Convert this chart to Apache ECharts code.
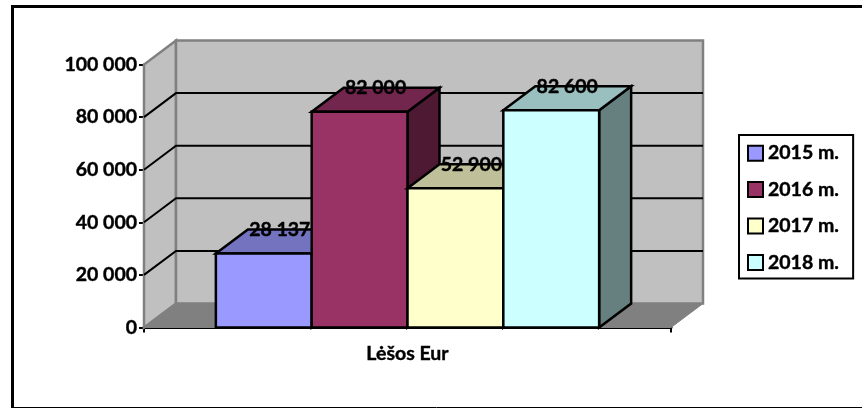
<!DOCTYPE html>
<html>
<head>
<meta charset="utf-8">
<style>
  html, body { margin: 0; padding: 0; background: #fff; }
  #myChart { width: 862px; height: 408px; }
</style>
<script src="https://cdn.jsdelivr.net/npm/echarts@6/dist/echarts.min.js"></script>
</head>
<body>
<div id="myChart"></div>
<script>
const categories = ['Lėšos Eur']
const seriesNames = ['2015 m.', '2016 m.', '2017 m.', '2018 m.']
const seriesValues = [28137, 82000, 52900, 82600]
const tickValues = [0, 20000, 40000, 60000, 80000, 100000]

const frontColors = ['#9999FF', '#993366', '#FFFFCC', '#CCFFFF']
const topColors = ['#7373BF', '#73264D', '#BFBF99', '#99BFBF']
const sideColors = ['#4D4D80', '#4D1933', '#808066', '#668080']

// 3D depth of the fake excel box, in pixels
const depthX = 32
const depthY = -24
const gapWidth = 1.5
const font = 'Lato, "Open Sans", sans-serif'
const fontSize = 19.5
const heavy = { textBorderColor: '#000', textBorderWidth: 0.4 }

function fmt(v) {
  return String(v).replace(/\B(?=(\d{3})+$)/g, ' ')
}

function face(points, fill, stroke, lineWidth) {
  return {
    type: 'polygon',
    shape: { points },
    style: { fill, stroke: stroke || 'none', lineWidth: lineWidth || 0, lineJoin: 'miter' }
  }
}

// walls, floor and the gridlines that run across them
function renderBox(params, api) {
  const left = params.coordSys.x
  const right = left + params.coordSys.width
  const y0 = api.coord([0, 0])[1]
  const yTop = api.coord([0, 100000])[1]
  const children = [
    face([[left, y0], [left + depthX, y0 + depthY], [left + depthX, yTop + depthY], [left, yTop]], '#C0C0C0', '#808080', 2.5),
    face([[left + depthX, y0 + depthY], [right + depthX, y0 + depthY], [right + depthX, yTop + depthY], [left + depthX, yTop + depthY]], '#C0C0C0', '#808080', 2.5),
    face([[left, y0], [right, y0], [right + depthX, y0 + depthY], [left + depthX, y0 + depthY]], '#808080', '#808080', 1)
  ]
  tickValues.slice(1, -1).forEach((t) => {
    const y = api.coord([0, t])[1]
    children.push({
      type: 'polyline',
      shape: { points: [[left, y], [left + depthX, y + depthY], [right + depthX, y + depthY]] },
      style: { fill: 'none', stroke: '#000', lineWidth: 2 }
    })
  })
  return { type: 'group', children }
}

function renderBar(params, api) {
  const i = params.seriesIndex - 1
  const val = api.value(1)
  const base = api.coord([0, 0])
  const top = api.coord([0, val])
  const band = api.size([1, 0])[0]
  const w = band / (seriesValues.length + gapWidth)
  const x0 = base[0] - band / 2 + (gapWidth / 2 + i) * w
  const x1 = x0 + w
  const stroke = '#000'
  return {
    type: 'group',
    children: [
      face([[x1, base[1]], [x1 + depthX, base[1] + depthY], [x1 + depthX, top[1] + depthY], [x1, top[1]]], sideColors[i], stroke, 2.5),
      face([[x0, top[1]], [x1, top[1]], [x1 + depthX, top[1] + depthY], [x0 + depthX, top[1] + depthY]], topColors[i], stroke, 2.5),
      face([[x0, base[1]], [x1, base[1]], [x1, top[1]], [x0, top[1]]], frontColors[i], stroke, 2.5),
      {
        type: 'text',
        z2: 20,
        style: {
          x: (x0 + x1) / 2 + depthX / 2,
          y: top[1] + depthY,
          text: fmt(val),
          font: 'bold ' + fontSize + 'px ' + font,
          fill: '#000',
          align: 'center',
          verticalAlign: 'middle',
          stroke: '#000',
          lineWidth: 0.4
        }
      }
    ]
  }
}

const series = [
  {
    type: 'custom',
    silent: true,
    renderItem: renderBox,
    data: [[0, 0]],
    encode: { x: 0, y: 1 },
    z: 1
  }
]
seriesNames.forEach((name, i) => {
  series.push({
    name,
    type: 'custom',
    renderItem: renderBar,
    data: [[0, seriesValues[i]]],
    encode: { x: 0, y: 1 },
    itemStyle: { color: frontColors[i], borderColor: '#000', borderWidth: 2.5 },
    z: 2
  })
})

const option = {
  animation: false,
  backgroundColor: '#fff',
  graphic: [
    {
      // chart area border, only three sides land inside the picture
      type: 'polyline',
      silent: true,
      z: 0,
      shape: { points: [[12.5, 407.5], [12.5, 6.5], [870, 6.5]] },
      style: { fill: 'none', stroke: '#000', lineWidth: 3 }
    },
    {
      type: 'line',
      silent: true,
      z: 0,
      shape: { x1: 11, y1: 407.5, x2: 862, y2: 407.5 },
      style: { stroke: '#000', lineWidth: 1 }
    }
  ],
  grid: { left: 144, top: 64.5, width: 527, height: 263 },
  legend: {
    orient: 'vertical',
    left: 739,
    top: 135,
    padding: [8, 14, 6, 8],
    itemGap: 16,
    itemWidth: 15,
    itemHeight: 15,
    icon: 'rect',
    backgroundColor: '#fff',
    borderColor: '#000',
    borderWidth: 2,
    data: seriesNames,
    textStyle: { fontFamily: font, fontWeight: 'bold', fontSize, lineHeight: 20, color: '#000', ...heavy }
  },
  xAxis: {
    type: 'category',
    data: categories,
    axisLine: { lineStyle: { color: '#000', width: 3 } },
    axisTick: { show: true, length: 5, lineStyle: { color: '#000', width: 2 } },
    axisLabel: { margin: 16, fontFamily: font, fontWeight: 'bold', fontSize, color: '#000', ...heavy }
  },
  yAxis: {
    type: 'value',
    min: 0,
    max: 100000,
    interval: 20000,
    splitLine: { show: false },
    axisLine: { show: true, lineStyle: { color: '#000', width: 2.5 } },
    axisTick: { show: true, length: 5, lineStyle: { color: '#000', width: 2 } },
    axisLabel: { margin: 7, formatter: fmt, fontFamily: font, fontWeight: 'bold', fontSize, color: '#000', ...heavy }
  },
  series
}

const myChart = echarts.init(document.getElementById('myChart'), null, { renderer: 'canvas' })
myChart.setOption(option)
</script>
</body>
</html>
